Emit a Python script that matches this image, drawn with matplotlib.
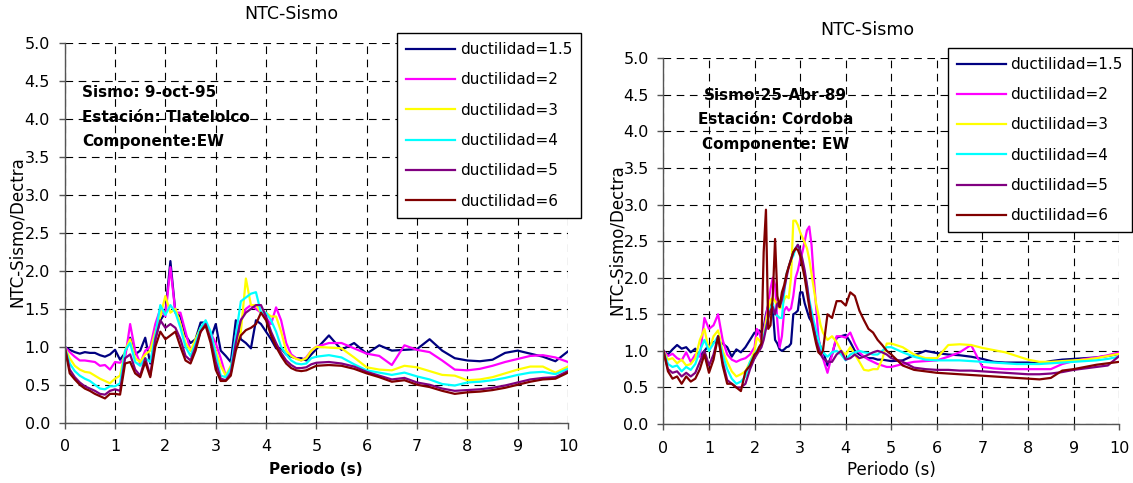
import matplotlib
matplotlib.use("Agg")
import matplotlib.pyplot as plt
from matplotlib.ticker import FormatStrFormatter

plt.rcParams['font.family'] = ['DejaVu Sans']
plt.rcParams['lines.scale_dashes'] = False

labels = ["ductilidad=1.5", "ductilidad=2", "ductilidad=3",
          "ductilidad=4", "ductilidad=5", "ductilidad=6"]
colors = ["#000080", "#FF00FF", "#FFFF00", "#00FFFF", "#800080", "#800000"]

# ---------------- Left chart: Sismo 9-oct-95, Tlatelolco ----------------
left_periods = [0.0, 0.1, 0.2, 0.3, 0.4, 0.5, 0.6, 0.7, 0.8, 0.9,
                1.0, 1.1, 1.2, 1.3, 1.4, 1.5, 1.6, 1.7, 1.8, 1.9,
                2.0, 2.1, 2.2, 2.3, 2.4, 2.5, 2.6, 2.7, 2.8, 2.9,
                3.0, 3.1, 3.2, 3.3, 3.4, 3.5, 3.6, 3.7, 3.8, 3.9,
                4.0, 4.1, 4.2, 4.3, 4.4, 4.5, 4.6, 4.7, 4.8, 4.9,
                5.0, 5.25, 5.5, 5.75, 6.0, 6.25, 6.5, 6.75, 7.0, 7.25,
                7.5, 7.75, 8.0, 8.25, 8.5, 8.75, 9.0, 9.25, 9.5, 9.75, 10.0]

left_d15 = [1.00, 0.96, 0.93, 0.91, 0.93, 0.92, 0.92, 0.89, 0.87, 0.90,
            0.96, 0.83, 0.92, 1.12, 0.90, 0.95, 1.12, 0.78, 1.10, 1.35,
            1.45, 2.13, 1.45, 1.40, 1.15, 1.05, 1.10, 1.32, 1.32, 1.10,
            1.30, 0.95, 0.88, 0.80, 1.35, 1.10, 1.05, 0.98, 1.35, 1.30,
            1.20, 1.10, 0.98, 0.98, 0.90, 0.87, 0.85, 0.85, 0.82, 0.90,
            0.97, 1.15, 0.96, 1.05, 0.91, 1.02, 0.95, 0.96, 0.97, 1.10,
            0.95, 0.85, 0.82, 0.81, 0.83, 0.92, 0.95, 0.91, 0.87, 0.81, 0.94]
left_d2 = [1.00, 0.93, 0.87, 0.82, 0.82, 0.81, 0.80, 0.75, 0.76, 0.70,
           0.80, 0.79, 0.85, 1.30, 0.95, 0.78, 0.95, 1.00, 1.30, 1.50,
           1.40, 2.05, 1.45, 1.45, 1.20, 0.95, 1.05, 1.20, 1.30, 1.18,
           1.05, 0.85, 0.62, 0.66, 1.15, 1.35, 1.50, 1.55, 1.50, 1.45,
           1.38, 1.30, 1.52, 1.35, 1.05, 0.90, 0.85, 0.82, 0.86, 0.95,
           1.00, 1.05, 1.05, 0.98, 0.91, 0.88, 0.76, 1.02, 0.96, 0.93,
           0.82, 0.70, 0.69, 0.71, 0.75, 0.80, 0.84, 0.88, 0.89, 0.86, 0.80]
left_d3 = [1.00, 0.85, 0.75, 0.70, 0.67, 0.66, 0.62, 0.58, 0.55, 0.52,
           0.58, 0.62, 0.95, 1.10, 0.85, 0.80, 0.90, 0.95, 1.20, 1.40,
           1.67, 1.45, 1.50, 1.30, 1.05, 0.95, 1.10, 1.25, 1.30, 1.15,
           0.95, 0.75, 0.62, 0.75, 1.00, 1.20, 1.90, 1.55, 1.55, 1.45,
           1.45, 1.40, 1.40, 1.20, 0.95, 0.88, 0.84, 0.82, 0.85, 0.95,
           1.00, 0.99, 0.98, 0.86, 0.73, 0.70, 0.69, 0.75, 0.73, 0.68,
           0.63, 0.62, 0.56, 0.57, 0.60, 0.65, 0.70, 0.74, 0.74, 0.66, 0.74]
left_d4 = [1.00, 0.78, 0.68, 0.62, 0.58, 0.55, 0.50, 0.45, 0.44, 0.48,
           0.48, 0.52, 0.95, 1.05, 0.80, 0.75, 0.85, 0.80, 1.15, 1.55,
           1.42, 1.55, 1.45, 1.25, 1.00, 0.88, 1.05, 1.25, 1.35, 1.20,
           0.90, 0.62, 0.60, 0.72, 1.15, 1.60, 1.65, 1.70, 1.72, 1.45,
           1.45, 1.35, 1.20, 1.00, 0.90, 0.82, 0.78, 0.77, 0.78, 0.85,
           0.87, 0.89, 0.86, 0.77, 0.69, 0.66, 0.63, 0.66, 0.61, 0.57,
           0.51, 0.49, 0.53, 0.54, 0.56, 0.59, 0.63, 0.66, 0.67, 0.64, 0.71]
left_d5 = [1.00, 0.70, 0.60, 0.53, 0.48, 0.45, 0.42, 0.38, 0.37, 0.42,
           0.44, 0.42, 0.85, 0.90, 0.70, 0.62, 0.85, 0.62, 1.10, 1.35,
           1.25, 1.30, 1.25, 1.10, 0.88, 0.82, 1.00, 1.20, 1.30, 1.10,
           0.80, 0.58, 0.56, 0.65, 1.05, 1.35, 1.45, 1.50, 1.55, 1.55,
           1.40, 1.20, 1.05, 0.92, 0.82, 0.76, 0.72, 0.72, 0.73, 0.77,
           0.79, 0.80, 0.78, 0.74, 0.67, 0.62, 0.57, 0.59, 0.53, 0.50,
           0.45, 0.42, 0.43, 0.44, 0.46, 0.49, 0.53, 0.57, 0.59, 0.60, 0.68]
left_d6 = [1.00, 0.65, 0.57, 0.50, 0.45, 0.42, 0.38, 0.35, 0.32, 0.38,
           0.38, 0.37, 0.78, 0.80, 0.65, 0.60, 0.80, 0.60, 1.00, 1.20,
           1.10, 1.15, 1.20, 1.00, 0.82, 0.78, 0.95, 1.20, 1.28, 1.05,
           0.70, 0.55, 0.55, 0.62, 0.95, 1.15, 1.22, 1.25, 1.30, 1.45,
           1.35, 1.15, 1.00, 0.88, 0.78, 0.72, 0.69, 0.68, 0.69, 0.72,
           0.75, 0.76, 0.75, 0.71, 0.65, 0.60, 0.54, 0.56, 0.50, 0.47,
           0.42, 0.38, 0.40, 0.41, 0.43, 0.46, 0.50, 0.54, 0.57, 0.58, 0.66]

# ---------------- Right chart: Sismo 25-Abr-89, Cordoba ----------------
right_periods = [0.0, 0.1, 0.2, 0.3, 0.4, 0.5, 0.6, 0.7, 0.8, 0.9,
                 1.0, 1.1, 1.2, 1.3, 1.4, 1.5, 1.6, 1.7, 1.8, 1.9, 2.0,
                 2.05, 2.1, 2.15, 2.2, 2.25, 2.3, 2.35, 2.4, 2.45, 2.5,
                 2.55, 2.6, 2.65, 2.7, 2.75, 2.8, 2.85, 2.9, 2.95, 3.0,
                 3.05, 3.1, 3.15, 3.2, 3.25, 3.3, 3.35, 3.4, 3.45, 3.5,
                 3.6, 3.7, 3.8, 3.9, 4.0, 4.1, 4.2, 4.3, 4.4, 4.5,
                 4.6, 4.7, 4.8, 4.9, 5.0,
                 5.25, 5.5, 5.75, 6.0, 6.25, 6.5, 6.75, 7.0, 7.25, 7.5,
                 7.75, 8.0, 8.25, 8.5, 8.75, 9.0, 9.25, 9.5, 9.75, 10.0]

right_d15 = [1.00, 0.95, 1.02, 1.08, 1.03, 1.05, 0.98, 1.03, 0.93, 1.00,
             1.08, 1.12, 1.12, 1.10, 1.05, 0.92, 1.02, 0.98, 1.05, 1.15, 1.25,
             1.22, 1.28, 1.25, 1.32, 1.50, 1.62, 1.65, 1.55, 1.15, 1.10,
             1.02, 1.00, 1.02, 1.05, 1.06, 1.10, 1.50, 1.52, 1.55, 1.80,
             1.80, 1.65, 1.55, 1.45, 1.40, 1.32, 1.25, 1.15, 1.05, 1.00,
             0.80, 0.95, 1.18, 1.20, 1.22, 1.12, 1.00, 0.95, 0.92, 0.90,
             0.90, 0.88, 0.88, 0.87, 0.86,
             0.87, 0.94, 1.00, 0.97, 0.95, 0.94, 0.92, 0.89, 0.85, 0.84,
             0.84, 0.84, 0.83, 0.86, 0.88, 0.89, 0.90, 0.91, 0.93, 0.96]
right_d2 = [1.00, 0.93, 0.96, 0.90, 0.87, 0.98, 0.85, 0.95, 0.92, 1.45,
            1.30, 1.35, 1.50, 1.15, 0.95, 0.88, 0.85, 0.88, 0.90, 0.95, 1.05,
            1.30, 1.25, 1.15, 1.25, 1.45, 1.65, 1.85, 2.00, 1.90, 1.40,
            1.05, 1.20, 1.55, 1.60, 1.55, 1.58, 1.75, 2.00, 2.10, 2.25,
            2.35, 2.50, 2.65, 2.70, 2.45, 2.00, 1.60, 1.20, 1.00, 0.90,
            0.70, 0.95, 1.20, 1.20, 1.18, 1.25, 1.10, 0.98, 0.92, 0.88,
            0.85, 0.82, 0.80, 0.78, 0.78,
            0.82, 0.85, 0.86, 0.87, 0.92, 0.98, 1.08, 0.78, 0.76, 0.75,
            0.75, 0.75, 0.75, 0.75, 0.82, 0.86, 0.89, 0.91, 0.94, 0.98]
right_d3 = [1.00, 0.88, 0.90, 0.83, 0.88, 0.80, 0.82, 0.90, 1.15, 1.30,
            1.00, 1.20, 1.28, 1.00, 0.85, 0.72, 0.65, 0.68, 0.72, 0.85, 1.00,
            1.18, 1.15, 1.10, 1.20, 1.40, 1.55, 1.70, 1.72, 1.68, 1.62,
            1.58, 1.60, 1.70, 1.75, 1.72, 2.00, 2.78, 2.78, 2.72, 2.62,
            2.55, 2.48, 2.40, 2.25, 2.05, 1.85, 1.65, 1.50, 1.35, 1.25,
            1.15, 1.20, 1.12, 1.00, 0.95, 1.05, 0.95, 0.85, 0.74, 0.73,
            0.75, 0.75, 0.88, 1.10, 1.10,
            1.05, 0.95, 0.90, 0.90, 1.08, 1.09, 1.08, 1.04, 1.01, 0.98,
            0.93, 0.88, 0.85, 0.85, 0.86, 0.87, 0.88, 0.90, 0.93, 0.96]
right_d4 = [1.00, 0.82, 0.78, 0.80, 0.72, 0.78, 0.74, 0.82, 1.00, 1.15,
            1.00, 1.10, 1.20, 0.95, 0.75, 0.62, 0.55, 0.58, 0.65, 0.85, 0.95,
            1.00, 1.05, 1.10, 1.20, 1.32, 1.45, 1.58, 1.65, 1.50, 1.48,
            1.45, 1.45, 1.80, 2.05, 2.15, 2.25, 2.30, 2.40, 2.45, 2.35,
            2.20, 2.05, 1.90, 1.70, 1.55, 1.40, 1.28, 1.15, 1.05, 0.98,
            0.92, 0.98, 1.00, 0.95, 0.87, 0.95, 0.98, 1.00, 0.98, 0.97,
            0.95, 0.95, 1.00, 1.05, 1.05,
            0.98, 0.92, 0.88, 0.87, 0.87, 0.87, 0.86, 0.85, 0.84, 0.83,
            0.82, 0.82, 0.82, 0.83, 0.84, 0.85, 0.86, 0.87, 0.89, 0.92]
right_d5 = [1.00, 0.75, 0.70, 0.72, 0.65, 0.70, 0.65, 0.70, 0.85, 1.00,
            0.80, 0.95, 1.20, 0.85, 0.60, 0.55, 0.50, 0.50, 0.55, 0.75, 0.90,
            0.95, 1.00, 1.05, 1.15, 1.30, 1.45, 1.55, 1.60, 1.50, 1.65,
            1.60, 1.70, 1.85, 2.00, 2.15, 2.25, 2.35, 2.40, 2.45, 2.38,
            2.25, 2.10, 1.90, 1.65, 1.45, 1.30, 1.15, 1.05, 0.95, 0.90,
            0.85, 0.85, 0.95, 1.00, 0.88, 0.90, 0.95, 0.90, 0.92, 0.95,
            0.98, 1.00, 0.98, 0.95, 0.90,
            0.85, 0.77, 0.75, 0.74, 0.74, 0.73, 0.73, 0.72, 0.71, 0.70,
            0.69, 0.68, 0.68, 0.69, 0.71, 0.74, 0.76, 0.78, 0.80, 0.93]
right_d6 = [1.00, 0.72, 0.62, 0.65, 0.55, 0.65, 0.58, 0.62, 0.75, 0.95,
            0.70, 0.88, 1.20, 0.80, 0.55, 0.55, 0.50, 0.45, 0.72, 0.80, 0.95,
            0.98, 1.05, 1.10, 2.35, 2.93, 1.30, 1.35, 1.75, 2.53, 1.75,
            1.60, 1.80, 1.90, 2.05, 2.15, 2.25, 2.35, 2.40, 2.38, 2.30,
            2.15, 2.00, 1.80, 1.60, 1.40, 1.25, 1.10, 0.98, 0.95, 1.00,
            1.50, 1.45, 1.68, 1.68, 1.62, 1.80, 1.75, 1.55, 1.42, 1.30,
            1.25, 1.15, 1.08, 1.00, 0.95,
            0.80, 0.74, 0.72, 0.70, 0.69, 0.68, 0.67, 0.66, 0.65, 0.64,
            0.63, 0.62, 0.61, 0.63, 0.73, 0.75, 0.78, 0.81, 0.83, 0.85]

x_ticks = [0, 1, 2, 3, 4, 5, 6, 7, 8, 9, 10]
y_ticks = [0.0, 0.5, 1.0, 1.5, 2.0, 2.5, 3.0, 3.5, 4.0, 4.5, 5.0]

W, H = 1133, 483
fig = plt.figure(figsize=(W / 100, H / 100), dpi=100)


def fx(px):
    return px / W


def fy(py):
    return 1 - py / H


def make_axes(rect, periods, series, legend_xy):
    ax = fig.add_axes(rect)
    ax.set_xlim(0, 10)
    ax.set_ylim(0, 5)
    ax.set_xticks(x_ticks)
    ax.set_yticks(y_ticks)
    ax.yaxis.set_major_formatter(FormatStrFormatter('%.1f'))
    ax.grid(True, color='black', linewidth=0.8, linestyle=(0, (5.5, 4.0)))
    ax.set_axisbelow(True)
    for s in ['top', 'right']:
        ax.spines[s].set_visible(False)
    for s in ['left', 'bottom']:
        ax.spines[s].set_color('#555555')
        ax.spines[s].set_linewidth(1.0)
    ax.tick_params(axis='both', direction='out', length=4, width=1,
                   color='#555555', labelsize=11.5)
    ax.tick_params(axis='y', pad=6.5)
    ax.tick_params(axis='x', pad=8)
    handles = []
    for vals, col, lab in zip(series, colors, labels):
        h, = ax.plot(periods, vals, color=col, linewidth=1.6, label=lab,
                     solid_joinstyle='round')
        handles.append(h)
    leg = ax.legend(handles=handles, loc='upper left',
                    bbox_to_anchor=legend_xy, bbox_transform=fig.transFigure,
                    borderaxespad=0, fontsize=11, frameon=True, fancybox=False,
                    framealpha=1, edgecolor='black', handlelength=3.2,
                    handletextpad=0.3, labelspacing=1.0, borderpad=0.6)
    leg.get_frame().set_linewidth(1.0)
    return ax


axL = make_axes([fx(64.7), fy(422.7), fx(568 - 64.7), (422.7 - 43.3) / H],
                left_periods,
                [left_d15, left_d2, left_d3, left_d4, left_d5, left_d6],
                (fx(397), fy(33)))
axR = make_axes([fx(663.4), fy(424), fx(1119.2 - 663.4), (424 - 58.3) / H],
                right_periods,
                [right_d15, right_d2, right_d3, right_d4, right_d5, right_d6],
                (fx(947.5), fy(47.7)))

# titles
fig.text(fx(291), fy(14), "NTC-Sismo", ha='center', va='center', fontsize=12.5)
fig.text(fx(867), fy(30), "NTC-Sismo", ha='center', va='center', fontsize=12.5)

# axis labels
fig.text(fx(316), fy(470), "Periodo (s)", ha='center', va='center',
         fontsize=11, fontweight='bold')
fig.text(fx(891), fy(470), "Periodo (s)", ha='center', va='center', fontsize=12)
fig.text(fx(16.5), fy(232), "NTC-Sismo/Dectra", ha='center', va='center',
         rotation=90, fontsize=12)
fig.text(fx(617), fy(240), "NTC-Sismo/Dectra", ha='center', va='center',
         rotation=90, fontsize=12)

# annotations
for txt, y in [("Sismo: 9-oct-95", 92.7), ("Estación: Tlatelolco", 117.7),
               ("Componente:EW", 141.7)]:
    fig.text(fx(82), fy(y), txt, ha='left', va='center', fontsize=11,
             fontweight='bold')
for txt, y in [("Sismo:25-Abr-89", 96), ("Estación: Cordoba", 119.3),
               ("Componente: EW", 145)]:
    fig.text(fx(775.6), fy(y), txt, ha='center', va='center', fontsize=11,
             fontweight='bold')

fig.savefig("out.png", dpi=100)
